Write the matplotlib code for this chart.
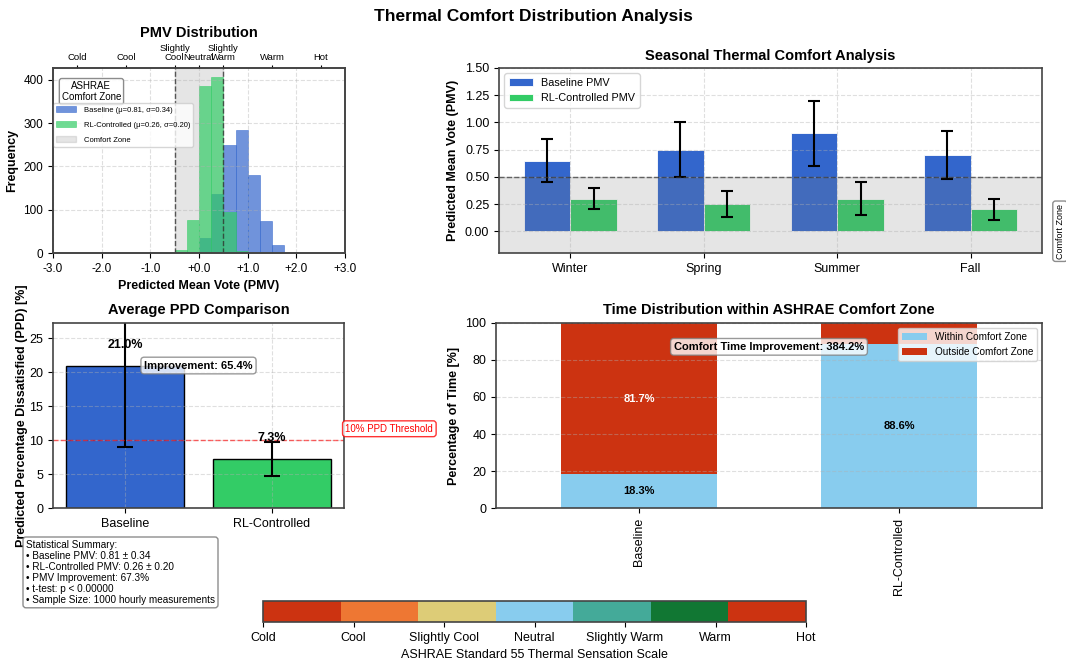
"""
Thermal comfort distribution dashboard (PMV / PPD / comfort-zone time)
"""

import numpy as np
import matplotlib
matplotlib.use("Agg")
from matplotlib import pyplot as plt
from matplotlib.colors import ListedColormap, Normalize
from matplotlib.cm import ScalarMappable
from matplotlib.ticker import FuncFormatter

plt.rcParams['font.family'] = ['Liberation Sans', 'DejaVu Sans']
plt.rcParams['axes.edgecolor'] = '#444444'
plt.rcParams['axes.linewidth'] = 1.2

# --- data ---
bin_edges = [-0.5, -0.25, 0.0, 0.25, 0.5, 0.75, 1.0, 1.25, 1.5, 1.75]
baseline_counts = [0, 0, 35, 136, 250, 283, 180, 75, 19]
rl_counts = [7, 77, 385, 407, 95, 5, 0, 0, 0]
baseline_stats = (0.81, 0.34)
rl_stats = (0.26, 0.20)

sensation_pos = [-2.5, -1.5, -0.5, 0.0, 0.5, 1.5, 2.5]
sensation_top = ['Cold', 'Cool', 'Slightly\nCool', 'Neutral', 'Slightly\nWarm', 'Warm', 'Hot']

seasons = ['Winter', 'Spring', 'Summer', 'Fall']
season_baseline = [0.65, 0.75, 0.90, 0.70]
season_baseline_err = [0.20, 0.25, 0.30, 0.22]
season_rl = [0.30, 0.25, 0.30, 0.20]
season_rl_err = [0.10, 0.12, 0.15, 0.10]

systems = ['Baseline', 'RL-Controlled']
ppd_mean = [21.0, 7.3]
ppd_err = [12.0, 2.5]
ppd_improvement = 65.4

within_zone = [18.3, 88.6]
outside_zone = [81.7, 11.4]
time_improvement = 384.2

scale_labels = ['Cold', 'Cool', 'Slightly Cool', 'Neutral', 'Slightly Warm', 'Warm', 'Hot']
scale_colors = ['#cc3311', '#ee7733', '#ddcc77', '#88ccee', '#44aa99', '#117733', '#cc3311']

stats_lines = [
    'Statistical Summary:',
    '\u2022 Baseline PMV: 0.81 \u00b1 0.34',
    '\u2022 RL-Controlled PMV: 0.26 \u00b1 0.20',
    '\u2022 PMV Improvement: 67.3%',
    '\u2022 t-test: p < 0.00000',
    '\u2022 Sample Size: 1000 hourly measurements',
]

BLUE = '#3366cc'
GREEN = '#33cc66'

fig = plt.figure(figsize=(10.66, 6.62), dpi=100)
W, H = 1066.0, 662.0


def px_axes(x0, y0, x1, y1):
    return fig.add_axes([x0 / W, 1 - y1 / H, (x1 - x0) / W, (y1 - y0) / H])


fig.suptitle('Thermal Comfort Distribution Analysis', fontsize=12.5,
             fontweight='bold', y=1 - 16 / H, va='center')

# --- PMV histogram ---
ax1 = px_axes(53, 68, 345, 253)
left_edges = bin_edges[:-1]
ax1.hist(left_edges, bins=bin_edges, weights=baseline_counts, color=BLUE, alpha=0.7,
         edgecolor=BLUE, linewidth=0.5,
         label='Baseline (\u03bc=%.2f, \u03c3=%.2f)' % baseline_stats)
ax1.hist(left_edges, bins=bin_edges, weights=rl_counts, color=GREEN, alpha=0.7,
         edgecolor=GREEN, linewidth=0.5,
         label='RL-Controlled (\u03bc=%.2f, \u03c3=%.2f)' % rl_stats)
ax1.axvspan(-0.5, 0.5, color='gray', alpha=0.2, zorder=0, label='Comfort Zone')
for x in (-0.5, 0.5):
    ax1.axvline(x, color='#333333', linestyle='--', linewidth=1, alpha=0.8)
ax1.set_xlim(-3, 3)
ax1.set_xticks(np.arange(-3, 4))
ax1.xaxis.set_major_formatter(FuncFormatter(lambda v, p: '%+.1f' % v))
ax1.tick_params(labelsize=8.5)
ax1.grid(True, linestyle='--', alpha=0.4)
ax1.set_xlabel('Predicted Mean Vote (PMV)', fontsize=9, fontweight='bold')
ax1.set_ylabel('Frequency', fontsize=9, fontweight='bold')
ax1.text(0.03, 0.93, 'ASHRAE\nComfort Zone', transform=ax1.transAxes, ha='left', va='top',
         fontsize=7, ma='center', linespacing=1.15,
         bbox=dict(boxstyle='round,pad=0.25', facecolor='white', edgecolor='gray', alpha=0.9))
ax1.legend(loc='upper left', bbox_to_anchor=(0.0, 0.81), borderaxespad=0.0,
           fontsize=5.5, handlelength=2.6, handletextpad=1.0, labelspacing=1.0,
           framealpha=0.8)
ax1_top = ax1.twiny()
ax1_top.set_xlim(ax1.get_xlim())
ax1_top.set_xticks(sensation_pos)
ax1_top.set_xticklabels(sensation_top, fontsize=6.8, linespacing=1.1)
ax1_top.tick_params(axis='x', length=2.5, pad=1.5)
ax1.set_title('PMV Distribution', fontsize=10.5, fontweight='bold', pad=22.5)

# --- seasonal PMV ---
ax2 = px_axes(499, 68, 1042, 253)
xs = np.arange(len(seasons))
w = 0.35
ax2.bar(xs - w / 2, season_baseline, w, yerr=season_baseline_err, color=BLUE,
        edgecolor='white', linewidth=0.6, capsize=4,
        error_kw=dict(elinewidth=1.5, capthick=1.5), label='Baseline PMV')
ax2.bar(xs + w / 2, season_rl, w, yerr=season_rl_err, color=GREEN,
        edgecolor='white', linewidth=0.6, capsize=4,
        error_kw=dict(elinewidth=1.5, capthick=1.5), label='RL-Controlled PMV')
ax2.axhspan(-0.5, 0.5, color='gray', alpha=0.2)
ax2.axhline(0.5, color='#333333', linestyle='--', linewidth=1, alpha=0.7)
ax2.set_ylim(-0.2, 1.5)
ax2.set_xticks(xs)
ax2.set_xticklabels(seasons)
ax2.tick_params(labelsize=9)
ax2.grid(True, linestyle='--', alpha=0.4)
ax2.set_ylabel('Predicted Mean Vote (PMV)', fontsize=9, fontweight='bold')
ax2.set_title('Seasonal Thermal Comfort Analysis', fontsize=10.5, fontweight='bold')
ax2.legend(loc='upper left', fontsize=7.8, handlelength=2.2)
ax2.text(3.67, 0.0, 'Comfort Zone', rotation=90, ha='center', va='center', fontsize=6.5,
         bbox=dict(boxstyle='round,pad=0.3', facecolor='white', edgecolor='gray', alpha=0.9))

# --- PPD comparison ---
ax3 = px_axes(53, 322.7, 344, 508.3)
xp = np.arange(len(systems))
ax3.bar(xp, ppd_mean, 0.8, yerr=ppd_err, color=[BLUE, GREEN], edgecolor='black',
        linewidth=1, capsize=6, error_kw=dict(elinewidth=1.5, capthick=1.5))
ax3.axhline(10, color='red', linestyle='--', linewidth=1, alpha=0.6)
ax3.text(1.5, 11.7, '10% PPD Threshold', color='red', fontsize=7, ha='left', va='center',
         bbox=dict(boxstyle='round,pad=0.3', facecolor='white', edgecolor='red', alpha=0.8))
for xi, v in zip(xp, ppd_mean):
    ax3.text(xi, v + 3, '%.1f%%' % v, ha='center', va='center', fontsize=9, fontweight='bold')
ax3.text(0.5, ppd_mean[0], 'Improvement: %.1f%%' % ppd_improvement, ha='center', va='center',
         fontsize=8, fontweight='bold',
         bbox=dict(boxstyle='round,pad=0.3', facecolor='white', edgecolor='gray', alpha=0.8))
ax3.set_ylim(0, max(ppd_mean) * 1.3)
ax3.set_xticks(xp)
ax3.set_xticklabels(systems)
ax3.tick_params(labelsize=9)
ax3.grid(True, linestyle='--', alpha=0.4)
ax3.set_ylabel('Predicted Percentage Dissatisfied (PPD) [%]', fontsize=9, fontweight='bold',
               labelpad=1)
ax3.set_title('Average PPD Comparison', fontsize=10.5, fontweight='bold')

fig.text(26 / W, 1 - 540 / H, '\n'.join(stats_lines), fontsize=7.2, ha='left', va='top',
         linespacing=1.12,
         bbox=dict(boxstyle='round,pad=0.3', facecolor='white', edgecolor='gray', alpha=0.9))

# --- time within comfort zone ---
ax4 = px_axes(496, 322.7, 1042, 508.3)
xt = np.arange(len(systems))
ax4.bar(xt, within_zone, 0.6, color='#88ccee', label='Within Comfort Zone')
ax4.bar(xt, outside_zone, 0.6, bottom=within_zone, color='#cc3311', label='Outside Comfort Zone')
for xi, a, b in zip(xt, within_zone, outside_zone):
    ax4.text(xi, a / 2, '%.1f%%' % a, ha='center', va='center', fontsize=8, fontweight='bold')
    if b > 15:
        ax4.text(xi, a + b / 2, '%.1f%%' % b, ha='center', va='center', fontsize=8,
                 fontweight='bold', color='white')
ax4.text(0.5, 87, 'Comfort Time Improvement: %.1f%%' % time_improvement, ha='center',
         va='center', fontsize=8, fontweight='bold',
         bbox=dict(boxstyle='round,pad=0.3', facecolor='white', edgecolor='gray', alpha=0.8))
ax4.set_xlim(-0.55, 1.55)
ax4.set_ylim(0, 100)
ax4.set_xticks(xt)
ax4.set_xticklabels(systems, rotation=90)
ax4.tick_params(labelsize=9)
ax4.grid(True, axis='y', linestyle='--', alpha=0.4)
ax4.set_ylabel('Percentage of Time [%]', fontsize=9, fontweight='bold')
ax4.set_title('Time Distribution within ASHRAE Comfort Zone', fontsize=10.5, fontweight='bold')
ax4.legend(loc='upper right', fontsize=7.2, handlelength=2.5)

# --- thermal sensation scale ---
cax = px_axes(263, 601, 806, 622)
sm = ScalarMappable(norm=Normalize(-3, 3), cmap=ListedColormap(scale_colors))
cb = fig.colorbar(sm, cax=cax, orientation='horizontal', ticks=np.arange(-3, 4))
cb.set_ticklabels(scale_labels)
cb.ax.tick_params(labelsize=9)
cb.set_label('ASHRAE Standard 55 Thermal Sensation Scale', fontsize=9)

fig.savefig('out.png', dpi=100)
